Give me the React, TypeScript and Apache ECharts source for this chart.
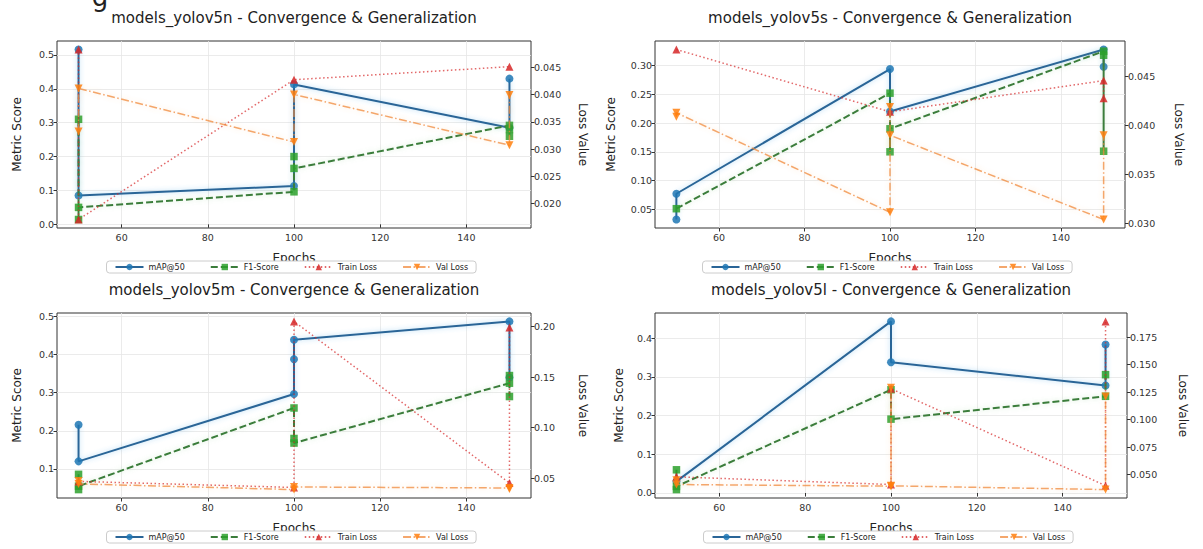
import { useEffect, useRef } from "react";
import * as echarts from "echarts";

// ---------------- data ----------------
const modelNames = ["models_yolov5n", "models_yolov5s", "models_yolov5m", "models_yolov5l"];
const seriesNames = ["mAP@50", "F1-Score", "Train Loss", "Val Loss"];
const xTickValues = [60, 80, 100, 120, 140];
const epochRange = [50, 150];

// models_yolov5n
const mapN = [[50, 0.516], [50, 0.085], [100, 0.113], [100, 0.413], [150, 0.285], [150, 0.43]];
const f1N = [[50, 0.31], [50, 0.0143], [50, 0.05], [100, 0.096], [100, 0.2], [100, 0.165], [150, 0.292], [150, 0.26], [150, 0.28]];
const trainN = [[50, 0.04824], [50, 0.01709], [100, 0.0427], [150, 0.0451]];
const valN = [[50, 0.0332], [50, 0.0411], [100, 0.0313], [100, 0.04], [150, 0.0307], [150, 0.0399]];

// models_yolov5s
const mapS = [[50, 0.0322], [50, 0.077], [100, 0.294], [100, 0.22], [150, 0.328], [150, 0.298]];
const f1S = [[50, 0.051], [100, 0.252], [100, 0.15], [100, 0.19], [150, 0.325], [150, 0.151], [150, 0.318]];
const trainS = [[50, 0.04779], [100, 0.0414], [150, 0.0446], [150, 0.0428]];
const valS = [[50, 0.0409], [50, 0.0413], [100, 0.0311], [100, 0.0419], [100, 0.039], [150, 0.03036], [150, 0.039]];

// models_yolov5m
const mapM = [[50, 0.216], [50, 0.12], [100, 0.2965], [100, 0.388], [100, 0.439], [150, 0.487], [150, 0.34]];
const f1M = [[50, 0.086], [50, 0.046], [50, 0.055], [100, 0.26], [100, 0.18], [100, 0.168], [150, 0.325], [150, 0.345], [150, 0.29]];
const trainM = [[50, 0.047], [100, 0.041], [100, 0.2049], [150, 0.0454], [150, 0.199]];
const valM = [[50, 0.0475], [50, 0.0445], [100, 0.0389], [100, 0.0415], [150, 0.0405], [150, 0.0395]];

// models_yolov5l
const mapL = [[50, 0.03], [100, 0.4437], [100, 0.338], [150, 0.278], [150, 0.384]];
const f1L = [[50, 0.06], [50, 0.0088], [50, 0.017], [100, 0.267], [100, 0.191], [150, 0.25], [150, 0.306]];
const trainL = [[50, 0.048], [100, 0.041], [100, 0.128], [150, 0.04], [150, 0.1892]];
const valL = [[50, 0.045], [50, 0.041], [100, 0.0395], [100, 0.129], [100, 0.0398], [150, 0.0364], [150, 0.121]];

const mapData = [mapN, mapS, mapM, mapL];
const f1Data = [f1N, f1S, f1M, f1L];
const trainData = [trainN, trainS, trainM, trainL];
const valData = [valN, valS, valM, valL];

const leftTickValues = [
  [0.0, 0.1, 0.2, 0.3, 0.4, 0.5],
  [0.05, 0.1, 0.15, 0.2, 0.25, 0.3],
  [0.1, 0.2, 0.3, 0.4, 0.5],
  [0.0, 0.1, 0.2, 0.3, 0.4],
];
const rightTickValues = [
  [0.02, 0.025, 0.03, 0.035, 0.04, 0.045],
  [0.03, 0.035, 0.04, 0.045],
  [0.05, 0.1, 0.15, 0.2],
  [0.05, 0.075, 0.1, 0.125, 0.15, 0.175],
];
const leftDecimals = [1, 2, 1, 1];
const rightDecimals = [3, 3, 2, 3];

// ---------------- layout / style ----------------
const FONT = "DejaVu Sans";
const grids = [
  { left: 57, top: 41, width: 474, height: 187 },
  { left: 655, top: 41, width: 470, height: 187 },
  { left: 57, top: 313, width: 474, height: 185 },
  { left: 655, top: 313, width: 472, height: 185 },
];
const leftNameGap = [34, 38, 34, 30];
const rightNameGap = [46, 48, 46, 50];

const styleDefs = [
  { color: "#1f77b4", lineColor: "#2a6597", symbol: "circle", size: 8, dash: "solid" as any, width: 2, right: false, lineOpacity: 1, shadow: "rgba(80,170,230,0.45)", rotate: 0 },
  { color: "#2ca02c", lineColor: "#3b7d3b", symbol: "rect", size: 7.5, dash: [7, 3], width: 2, right: false, lineOpacity: 1, shadow: "rgba(120,200,120,0.35)", rotate: 0 },
  { color: "#d62728", lineColor: "#d62728", symbol: "triangle", size: 8, dash: [1.5, 2.5], width: 1.5, right: true, lineOpacity: 0.7, shadow: "rgba(0,0,0,0)", rotate: 0 },
  { color: "#ff7f0e", lineColor: "#f08a3c", symbol: "triangle", size: 8, dash: [8, 2.5, 1.5, 2.5], width: 1.5, right: true, lineOpacity: 0.75, shadow: "rgba(255,170,90,0.4)", rotate: 180 },
];

function paddedExtent(arrays: number[][][], idx: number): [number, number] {
  let mn = Infinity;
  let mx = -Infinity;
  arrays.forEach((a) => a.forEach((p) => { mn = Math.min(mn, p[idx]); mx = Math.max(mx, p[idx]); }));
  const r = mx - mn;
  return [mn - 0.05 * r, mx + 0.05 * r];
}

function buildOption() {
  const xAxis: any[] = [];
  const yAxis: any[] = [];
  const series: any[] = [];
  const legend: any[] = [];
  const graphic: any[] = [];

  const tickLabelStyle = { fontSize: 9.5, color: "#333", fontFamily: FONT };
  const nameStyle = { fontSize: 12, color: "#222", fontFamily: FONT };

  for (let i = 0; i < 4; i++) {
    const g = grids[i];
    const xr = paddedExtent([[[epochRange[0], 0], [epochRange[1], 0]]], 0);
    const ly = paddedExtent([mapData[i], f1Data[i]], 1);
    const ry = paddedExtent([trainData[i], valData[i]], 1);

    xAxis.push({
      type: "value",
      gridIndex: i,
      min: xr[0],
      max: xr[1],
      name: "Epochs",
      nameLocation: "middle",
      nameGap: 24,
      nameTextStyle: nameStyle,
      axisLine: { show: false },
      axisTick: { show: true, length: 3.5, lineStyle: { color: "#333" }, customValues: xTickValues },
      axisLabel: { ...tickLabelStyle, margin: 4, customValues: xTickValues, formatter: (v: number) => String(Math.round(v)) },
      splitLine: { show: true, lineStyle: { color: "#e6e6e6", width: 0.8 } },
    });
    const ld = leftDecimals[i];
    const rd = rightDecimals[i];
    yAxis.push({
      type: "value",
      gridIndex: i,
      position: "left",
      min: ly[0],
      max: ly[1],
      name: "Metric Score",
      nameLocation: "middle",
      nameRotate: 90,
      nameGap: leftNameGap[i],
      nameTextStyle: nameStyle,
      axisLine: { show: false },
      axisTick: { show: true, length: 3.5, lineStyle: { color: "#333" }, customValues: leftTickValues[i] },
      axisLabel: { ...tickLabelStyle, margin: 3, customValues: leftTickValues[i], formatter: (v: number) => v.toFixed(ld) },
      splitLine: { show: true, lineStyle: { color: "#e6e6e6", width: 0.8 } },
    });
    yAxis.push({
      type: "value",
      gridIndex: i,
      position: "right",
      min: ry[0],
      max: ry[1],
      name: "Loss Value",
      nameLocation: "middle",
      nameRotate: -90,
      nameGap: rightNameGap[i],
      nameTextStyle: nameStyle,
      axisLine: { show: false },
      axisTick: { show: true, length: 3.5, lineStyle: { color: "#333" }, customValues: rightTickValues[i] },
      axisLabel: { ...tickLabelStyle, margin: 3, customValues: rightTickValues[i], formatter: (v: number) => v.toFixed(rd) },
      splitLine: { show: false },
    });

    const dataSets = [mapData[i], f1Data[i], trainData[i], valData[i]];
    dataSets.forEach((d, k) => {
      const s = styleDefs[k];
      series.push({
        name: seriesNames[k],
        type: "line",
        xAxisIndex: i,
        yAxisIndex: 2 * i + (s.right ? 1 : 0),
        data: d,
        symbol: s.symbol,
        symbolSize: s.size,
        symbolRotate: s.rotate,
        showSymbol: true,
        showAllSymbol: true,
        z: 2 + k,
        lineStyle: {
          color: s.lineColor,
          width: s.width,
          type: s.dash,
          opacity: s.lineOpacity,
          shadowColor: s.shadow,
          shadowBlur: 5,
        },
        itemStyle: { color: s.color, opacity: 0.85, borderWidth: 0 },
        emphasis: { disabled: true },
      });
    });

    const cx = g.left + g.width / 2;
    const legendW = 375;
    legend.push({
      data: seriesNames,
      left: cx - legendW / 2,
      top: g.top + g.height + 33,
      orient: "horizontal",
      itemWidth: 28,
      itemHeight: 8,
      itemGap: 25,
      padding: [2, 8, 2, 8],
      backgroundColor: "#ffffff",
      borderColor: "#cccccc",
      borderWidth: 1,
      borderRadius: 3,
      textStyle: { fontSize: 8, color: "#222", fontFamily: FONT },
      selectedMode: false,
      z: 10,
    });

    graphic.push({
      type: "text",
      x: cx,
      y: g.top - 23,
      z: 20,
      style: {
        text: `${modelNames[i]} - Convergence & Generalization`,
        align: "center",
        verticalAlign: "middle",
        fontSize: 15,
        fontFamily: FONT,
        fill: "#222",
      },
    });
  }

  // descender of a figure-level heading that is cut off at the top edge of the picture
  graphic.push({
    type: "text",
    x: 100,
    y: 10,
    z: 20,
    style: { text: "g", align: "center", verticalAlign: "bottom", fontSize: 26, fontFamily: FONT, fill: "#222" },
  });

  return {
    animation: false,
    backgroundColor: "#ffffff",
    textStyle: { fontFamily: FONT },
    grid: grids.map((g) => ({ ...g, show: true, borderColor: "#333", borderWidth: 1, backgroundColor: "#ffffff", containLabel: false })),
    xAxis,
    yAxis,
    series,
    legend,
    graphic,
  };
}

export default function App() {
  const ref = useRef<HTMLDivElement>(null);
  useEffect(() => {
    document.body.style.margin = "0";
    if (!ref.current) return;
    const chart = echarts.init(ref.current, undefined, { renderer: "svg" });
    chart.setOption(buildOption() as any);
    return () => chart.dispose();
  }, []);
  return <div ref={ref} style={{ width: 1203, height: 549 }} />;
}
